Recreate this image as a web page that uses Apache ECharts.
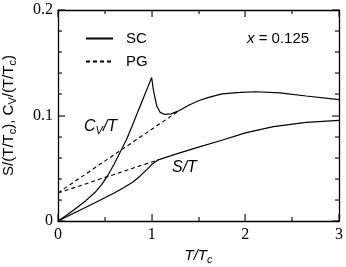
<!DOCTYPE html>
<html><head><meta charset="utf-8">
<script src="https://cdn.jsdelivr.net/npm/echarts@6/dist/echarts.min.js"></script>
<style>html,body{margin:0;padding:0;background:#fff}#c{width:346px;height:267px}</style>
</head><body><div id="c"></div>
<script>
// SC (superconducting) curves
const scCvT = [[0,0],[0.1,0.006],[0.2,0.0125],[0.3,0.0195],[0.4,0.0275],[0.466,0.0345],[0.537,0.044],[0.6,0.054],[0.662,0.065],[0.73,0.077],[0.787,0.089],[0.85,0.103],[0.9,0.114],[0.95,0.125],[1.0,0.136],[1.015,0.126],[1.035,0.117],[1.055,0.109],[1.09,0.103],[1.14,0.101],[1.21,0.1015],[1.3,0.105],[1.4,0.110],[1.5,0.114],[1.6,0.117],[1.75,0.1205],[1.95,0.122],[2.12,0.1225],[2.37,0.1215],[2.65,0.1185],[3.0,0.115]];
const scST = [[0,0],[0.2,0.0088],[0.4,0.0176],[0.5,0.022],[0.6,0.0265],[0.7,0.0315],[0.8,0.037],[0.875,0.0425],[0.95,0.049],[1.0,0.0535],[1.07,0.058],[1.2,0.0617],[1.3,0.0646],[1.5,0.070],[1.75,0.0765],[2.0,0.0835],[2.3,0.0895],[2.65,0.0935],[3.0,0.0953]];
// PG (pseudogap) curves
const pgCvT = [[0,0.0267],[1.3,0.105]];
const pgST = [[0,0.0265],[1.07,0.058]];
// axis ticks
const xTicks = [0,1,2,3];
const xMinorTicks = [0.5,1.5,2.5];
const yTicks = [0,0.1,0.2];
const yMinorTicks = [0.02,0.04,0.06,0.08,0.12,0.14,0.16,0.18];

const chart = echarts.init(document.getElementById('c'));
const serif = '"Liberation Serif","DejaVu Serif",serif';
const sans = '"Liberation Sans",Arial,sans-serif';
const X = {min:0,max:3}, Y = {min:0,max:0.2};
const MAJ = 7, MIN = 4;
function mainAxis(range, extra){
  return Object.assign({type:'value',min:range.min,max:range.max,
    axisLine:{show:true,onZero:false,lineStyle:{color:'#000',width:1.3}},
    axisTick:{show:false},minorTick:{show:false},splitLine:{show:false}}, extra);
}
const solid = {color:'#000',width:1.2,type:'solid'};
const dashed = {color:'#000',width:1.1,type:[4,3]};
const texts = [
  {type:'text',left:247,top:31,style:{text:'{i|x} = 0.125',font:'15px '+sans,fill:'#000',rich:{i:{fontStyle:'italic',fontFamily:sans,fontSize:15,fill:'#000'}}}},
  {type:'text',left:84,top:119,style:{text:'C{s|V}/T',font:'italic 16px '+sans,fill:'#000',rich:{s:{fontStyle:'italic',fontFamily:sans,fontSize:11,fill:'#000',padding:[8,0,0,0]}}}},
  {type:'text',left:172,top:160,style:{text:'S/T',font:'italic 16px '+sans,fill:'#000'}}
];
chart.setOption({
  animation:false,
  grid:{left:58,right:7,top:10,bottom:46,containLabel:false,outerBoundsMode:'none'},
  legend:{orient:'vertical',left:80,top:26,itemWidth:27,itemHeight:14,itemGap:8,
    itemStyle:{opacity:0},
    data:['SC','PG'],textStyle:{fontFamily:sans,fontSize:15,color:'#000',padding:[0,0,0,8]}},
  xAxis:[
    mainAxis(X,{interval:1,position:'bottom',
      name:'{i|T}{i|/T}{s|c}',nameLocation:'middle',nameGap:25,
      nameTextStyle:{rich:{i:{fontFamily:sans,fontStyle:'italic',fontSize:15,color:'#000'},s:{fontFamily:sans,fontStyle:'italic',fontSize:11,color:'#000',padding:[8,0,0,0]}}},
      axisLabel:{fontFamily:serif,fontSize:16,color:'#000',margin:6,formatter:v=>xTicks.includes(v)?String(v):''}}),
    mainAxis(X,{interval:1,position:'top',axisLabel:{show:false}})
  ],
  yAxis:[
    mainAxis(Y,{interval:0.1,position:'left',
      name:'S/(T/T{s|c}), C{s|V}/(T/T{s|c})',nameLocation:'middle',nameGap:40,
      nameTextStyle:{fontFamily:sans,fontSize:15,color:'#000',rich:{s:{fontFamily:sans,fontSize:11,color:'#000',padding:[8,0,0,0]}}},
      axisLabel:{fontFamily:serif,fontSize:16,color:'#000',margin:5,formatter:v=>yTicks.some(t=>Math.abs(t-v)<1e-9)?String(+v.toFixed(1)):''}}),
    mainAxis(Y,{interval:0.1,position:'right',axisLabel:{show:false}})
  ],
  series:[
    {name:'SC',type:'line',data:scCvT,symbol:'none',lineStyle:solid,itemStyle:{color:'#000'}},
    {name:'SC',type:'line',data:scST,symbol:'none',lineStyle:solid,itemStyle:{color:'#000'}},
    {name:'PG',type:'line',data:pgCvT,symbol:'none',lineStyle:dashed,itemStyle:{color:'#000'}},
    {name:'PG',type:'line',data:pgST,symbol:'none',lineStyle:dashed,itemStyle:{color:'#000'}}
  ],
  graphic:texts
});
// inward ticks on all four sides as thin filled rects, placed through the chart's own scales
const tickEls = [];
const fillSt = {fill:'#000'};
function px(x,y){ return chart.convertToPixel({gridIndex:0},[x,y]); }
[[xTicks,MAJ],[xMinorTicks,MIN]].forEach(([arr,len])=>arr.forEach(v=>{
  const b = px(v,Y.min), t = px(v,Y.max);
  const xx = Math.round(b[0]) - 0.5;
  tickEls.push({type:'rect',z:100,shape:{x:xx,y:Math.round(b[1])-len,width:1.1,height:len},style:fillSt});
  tickEls.push({type:'rect',z:100,shape:{x:xx,y:Math.round(t[1]),width:1.1,height:len},style:fillSt});
}));
[[yTicks,MAJ],[yMinorTicks,MIN]].forEach(([arr,len])=>arr.forEach(v=>{
  const l = px(X.min,v), r = px(X.max,v);
  const yy = Math.round(l[1]) - 0.5;
  tickEls.push({type:'rect',z:100,shape:{x:Math.round(l[0]),y:yy,width:len,height:1.1},style:fillSt});
  tickEls.push({type:'rect',z:100,shape:{x:Math.round(r[0])-len,y:yy,width:len,height:1.1},style:fillSt});
}));
chart.setOption({graphic:texts.concat(tickEls)}, {replaceMerge:['graphic']});
</script></body></html>
